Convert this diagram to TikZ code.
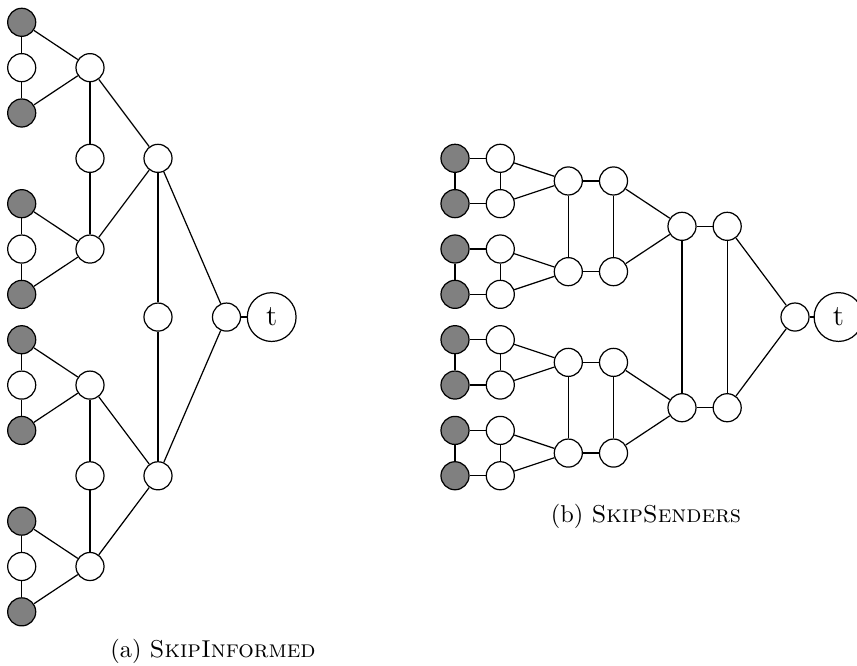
\documentclass[tikz,border=0pt]{standalone}
\begin{document}
\begin{tikzpicture}[x=0.41pt,y=-0.41pt,
  vtx/.style={circle,draw,line width=0.5pt,fill=white,minimum size=11.5pt,inner sep=0pt},
  gvtx/.style={vtx,fill=black!50},
  tvtx/.style={circle,draw,line width=0.5pt,fill=white,minimum size=20pt,inner sep=0pt,font=\large},
  edge/.style={line width=0.5pt},
  captext/.style={font=\normalsize,inner sep=0pt}]
\useasboundingbox (0,0) rectangle (857,666);
% ---------- (a) SkipInformed ----------
\foreach \g/\b in {0/0,1/4,2/7,3/11}{
  \node[gvtx] (ag\g a) at (21.7,{22.3+45.35*\b}) {};
  \node[vtx]  (ag\g w) at (21.7,{22.3+45.35*(\b+1)}) {};
  \node[gvtx] (ag\g b) at (21.7,{22.3+45.35*(\b+2)}) {};
  \node[vtx]  (ag\g L) at (90,{22.3+45.35*(\b+1)}) {};
}
\node[vtx] (aM1) at (90,{22.3+45.35*3}) {};
\node[vtx] (aM2) at (90,{22.3+45.35*10}) {};
\node[vtx] (aL3a) at (158,{22.3+45.35*3}) {};
\node[vtx] (aL3b) at (158,{22.3+45.35*10}) {};
\node[vtx] (aM3) at (158,{22.3+45.35*6.5}) {};
\node[vtx] (aL4) at (226.5,{22.3+45.35*6.5}) {};
\node[tvtx] (at) at (271.7,{22.3+45.35*6.5}) {t};
\foreach \g in {0,1,2,3}{
  \draw[edge] (ag\g a) -- (ag\g w) -- (ag\g b);
  \draw[edge] (ag\g a) -- (ag\g L) -- (ag\g b);
}
\draw[edge] (ag0L) -- (aM1) -- (ag1L);
\draw[edge] (ag2L) -- (aM2) -- (ag3L);
\draw[edge] (ag0L) -- (aL3a) -- (ag1L);
\draw[edge] (ag2L) -- (aL3b) -- (ag3L);
\draw[edge] (aL3a) -- (aM3) -- (aL3b);
\draw[edge] (aL3a) -- (aL4) -- (aL3b);
\draw[edge] (aL4) -- (at);
\node[captext] (capa) at (213,651) {(a) \textsc{SkipInformed}};
% ---------- (b) SkipSenders ----------
\foreach \g/\b in {0/0,1/2,2/4,3/6}{
  \node[gvtx] (bg\g a) at (455,{158.3+45.35*\b}) {};
  \node[gvtx] (bg\g b) at (455,{158.3+45.35*(\b+1)}) {};
  \node[vtx]  (bw\g a) at (500.3,{158.3+45.35*\b}) {};
  \node[vtx]  (bw\g b) at (500.3,{158.3+45.35*(\b+1)}) {};
}
\foreach \g/\b in {0/0.5,1/2.5,2/4.5,3/6.5}{
  \node[vtx] (bL\g a) at (568.3,{158.3+45.35*\b}) {};
  \node[vtx] (bL\g b) at (613.5,{158.3+45.35*\b}) {};
}
\node[vtx] (bK0a) at (682,{158.3+45.35*1.5}) {};
\node[vtx] (bK0b) at (727.2,{158.3+45.35*1.5}) {};
\node[vtx] (bK1a) at (682,{158.3+45.35*5.5}) {};
\node[vtx] (bK1b) at (727.2,{158.3+45.35*5.5}) {};
\node[vtx] (bL4) at (795,{158.3+45.35*3.5}) {};
\node[tvtx] (bt) at (838.5,{158.3+45.35*3.5}) {t};
\foreach \g in {0,1,2,3}{
  \draw[edge] (bg\g a) -- (bw\g a);
  \draw[edge] (bg\g b) -- (bw\g b);
  \draw[edge] (bg\g a) -- (bg\g b);
  \draw[edge] (bw\g a) -- (bw\g b);
  \draw[edge] (bw\g a) -- (bL\g a) -- (bw\g b);
  \draw[edge] (bL\g a) -- (bL\g b);
}
\draw[edge] (bL0a) -- (bL1a);
\draw[edge] (bL0b) -- (bL1b);
\draw[edge] (bL2a) -- (bL3a);
\draw[edge] (bL2b) -- (bL3b);
\draw[edge] (bL0b) -- (bK0a) -- (bL1b);
\draw[edge] (bL2b) -- (bK1a) -- (bL3b);
\draw[edge] (bK0a) -- (bK0b);
\draw[edge] (bK1a) -- (bK1b);
\draw[edge] (bK0a) -- (bK1a);
\draw[edge] (bK0b) -- (bK1b);
\draw[edge] (bK0b) -- (bL4) -- (bK1b);
\draw[edge] (bL4) -- (bt);
\node[captext] (capb) at (646,516) {(b) \textsc{SkipSenders}};
\end{tikzpicture}
\end{document}
